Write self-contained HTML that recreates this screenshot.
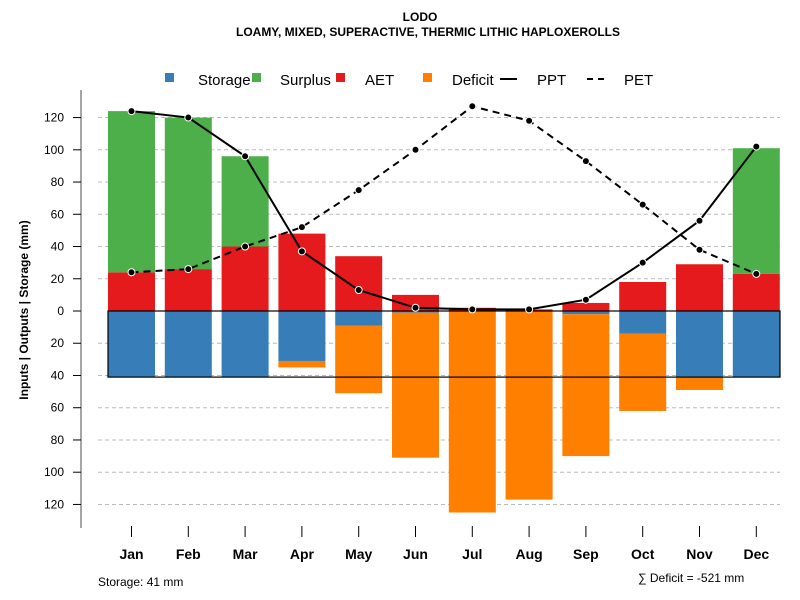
<!DOCTYPE html>
<html><head><meta charset="utf-8"><style>
body{margin:0;background:#fff}
svg{font-family:"Liberation Sans",sans-serif;display:block}
</style></head><body>
<svg id="chart" width="800" height="600" viewBox="0 0 800 600">
<text x="420" y="21" text-anchor="middle" font-size="12" font-weight="bold">LODO</text>
<text x="428" y="36" text-anchor="middle" font-size="12" font-weight="bold">LOAMY, MIXED, SUPERACTIVE, THERMIC LITHIC HAPLOXEROLLS</text>
<g font-size="15">
<rect x="165" y="73" width="9" height="9" fill="#377EB8"/><text x="198" y="85">Storage</text>
<rect x="252" y="73" width="9" height="9" fill="#4DAF4A"/><text x="280" y="85">Surplus</text>
<rect x="336" y="73" width="9" height="9" fill="#E41A1C"/><text x="365" y="85">AET</text>
<rect x="423" y="73" width="9" height="9" fill="#FF7F00"/><text x="452" y="85">Deficit</text>
<line x1="500" y1="79" x2="517" y2="79" stroke="#000" stroke-width="2"/><text x="537" y="85">PPT</text>
<line x1="587" y1="79" x2="609" y2="79" stroke="#000" stroke-width="2" stroke-dasharray="6,5"/><text x="624" y="85">PET</text>
</g>
<text transform="translate(28,310) rotate(-90)" text-anchor="middle" font-size="12" font-weight="bold">Inputs | Outputs | Storage    (mm)</text>
<line x1="81" y1="90" x2="81" y2="528" stroke="#888" stroke-width="1.5"/>
<g id="grid"></g><g id="bars"></g><g id="lines"></g><g id="axes"></g>
<text x="98" y="586" font-size="12">Storage: 41 mm</text>
<text x="638" y="582" font-size="12">∑ Deficit = -521 mm</text>
</svg>
<script>
const months=["Jan","Feb","Mar","Apr","May","Jun","Jul","Aug","Sep","Oct","Nov","Dec"];
const ppt=[124,120,96,37,13,2,1,1,7,30,56,102];
const pet=[24,26,40,52,75,100,127,118,93,66,38,23];
const aet=[24,26,40,48,34,10,2,1,5,18,29,23];
const surplus=[100,94,56,0,0,0,0,0,0,0,0,78];
const storage=[41,41,41,31,9,1,0,0,2,14,41,41];
const deficit=[0,0,0,4,42,90,125,117,88,48,8,0];
const yTicks=[-120,-100,-80,-60,-40,-20,0,20,40,60,80,100,120];
const maxStorage=41;
const NS="http://www.w3.org/2000/svg";
const y=v=>311-v*1.612;
const x=i=>131.5+i*56.8;
const bw=47;
function mk(p,t,a){const e=document.createElementNS(NS,t);for(const k in a)e.setAttribute(k,a[k]);document.getElementById(p).appendChild(e);return e;}
yTicks.forEach(t=>{
 if(t!==0){const g=mk("grid","line",{x1:98,x2:780,y1:y(t),y2:y(t),stroke:"#bbb","stroke-dasharray":"4,3"});
 
 }
 const tk=mk("axes","line",{x1:73,x2:81,y1:y(t),y2:y(t),stroke:"#000"});
 
 
 const lb=mk("axes","text",{x:64,y:y(t)+4,"text-anchor":"end","font-size":12});
 lb.textContent=Math.abs(t);
 
 
});
months.forEach((m,i)=>{
 const l=x(i)-bw/2;
 const parts=[["aet",0,aet[i],"#E41A1C"],["surplus",aet[i],aet[i]+surplus[i],"#4DAF4A"],["storage",-storage[i],0,"#377EB8"],["deficit",-storage[i]-deficit[i],-storage[i],"#FF7F00"]];
 parts.forEach(p=>{if(p[2]-p[1]<=0)return;
  const r=mk("bars","rect",{x:l,width:bw,y:y(p[2]),height:y(p[1])-y(p[2]),fill:p[3]});
  
  });
 const tk=mk("axes","line",{x1:x(i),x2:x(i),y1:526,y2:537,stroke:"#000"});
 
 
 const lb=mk("axes","text",{x:x(i),y:559,"text-anchor":"middle","font-size":14,"font-weight":"bold"});
 lb.textContent=m;
 
 
});
const box=mk("bars","rect",{x:108,y:y(0),width:672,height:y(-maxStorage)-y(0),fill:"none",stroke:"#000","stroke-width":1.2});


[["ppt",ppt,"none"],["pet",pet,"7,5"]].forEach(s=>{
 const pl=mk("lines","polyline",{points:s[1].map((v,i)=>x(i)+","+y(v)).join(" "),fill:"none",stroke:"#000","stroke-width":2,"stroke-dasharray":s[2]});
 
 
 s[1].forEach((v,i)=>{const c=mk("lines","circle",{cx:x(i),cy:y(v),r:3.5,fill:"#000",stroke:"#fff","stroke-width":1});
 
 });
});
</script>
</body></html>
